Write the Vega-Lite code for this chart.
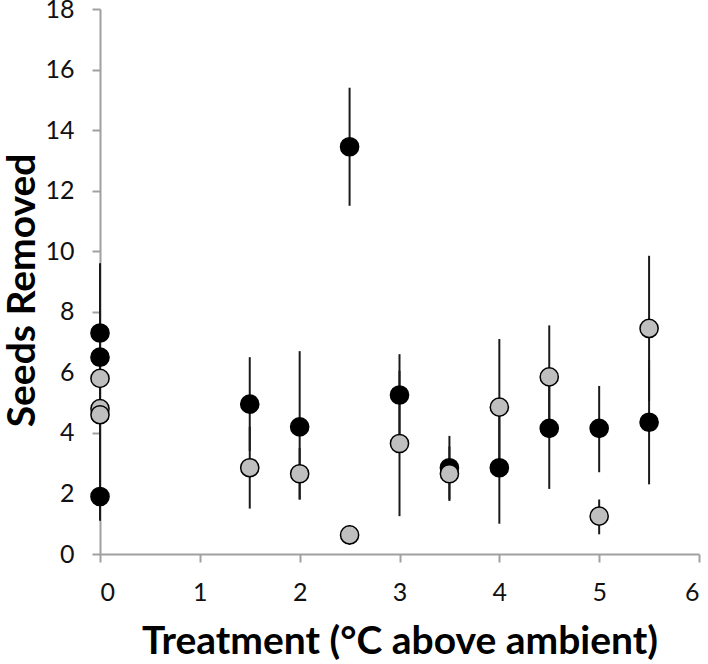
{
  "$schema": "https://vega.github.io/schema/vega-lite/v6.json",
  "autosize": "none",
  "padding": {"left": 100, "top": 9, "right": 9, "bottom": 110},
  "width": 599,
  "height": 545,
  "background": "white",
  "config": {
    "view": {"stroke": null},
    "font": "Lato",
    "axis": {
      "grid": false,
      "domainColor": "#a0a0a0",
      "domainWidth": 2,
      "tickColor": "#a0a0a0",
      "tickWidth": 2,
      "tickSize": 8,
      "labelFont": "Lato",
      "labelFontSize": 25,
      "labelColor": "#111111",
      "titleFont": "Lato",
      "titleFontSize": 39,
      "titleFontWeight": "bold",
      "titleColor": "#000000"
    }
  },
  "data": {
    "values": [
      {"x": 0, "y": 7.3, "lo": 5.0, "hi": 9.6, "group": "black"},
      {"x": 0, "y": 6.5, "lo": 4.4, "hi": 8.7, "group": "black"},
      {"x": 0, "y": 1.9, "lo": 1.1, "hi": 2.7, "group": "black"},
      {"x": 1.5, "y": 4.95, "lo": 3.4, "hi": 6.5, "group": "black"},
      {"x": 2, "y": 4.2, "lo": 1.8, "hi": 6.7, "group": "black"},
      {"x": 2.5, "y": 13.45, "lo": 11.5, "hi": 15.4, "group": "black"},
      {"x": 3, "y": 5.25, "lo": 3.9, "hi": 6.6, "group": "black"},
      {"x": 3.5, "y": 2.85, "lo": 1.8, "hi": 3.9, "group": "black"},
      {"x": 4, "y": 2.85, "lo": 1.0, "hi": 4.7, "group": "black"},
      {"x": 4.5, "y": 4.15, "lo": 2.15, "hi": 6.1, "group": "black"},
      {"x": 5, "y": 4.15, "lo": 2.7, "hi": 5.55, "group": "black"},
      {"x": 5.5, "y": 4.35, "lo": 2.3, "hi": 6.4, "group": "black"},
      {"x": 0, "y": 5.8, "lo": 3.5, "hi": 8.1, "group": "grey"},
      {"x": 0, "y": 4.8, "lo": 2.6, "hi": 7.0, "group": "grey"},
      {"x": 0, "y": 4.6, "lo": 2.9, "hi": 6.3, "group": "grey"},
      {"x": 1.5, "y": 2.85, "lo": 1.5, "hi": 4.2, "group": "grey"},
      {"x": 2, "y": 2.65, "lo": 1.8, "hi": 3.5, "group": "grey"},
      {"x": 2.5, "y": 0.63, "lo": 0.3, "hi": 0.95, "group": "grey"},
      {"x": 3, "y": 3.65, "lo": 1.25, "hi": 6.05, "group": "grey"},
      {"x": 3.5, "y": 2.65, "lo": 1.75, "hi": 3.55, "group": "grey"},
      {"x": 4, "y": 4.85, "lo": 2.6, "hi": 7.1, "group": "grey"},
      {"x": 4.5, "y": 5.85, "lo": 4.15, "hi": 7.55, "group": "grey"},
      {"x": 5, "y": 1.25, "lo": 0.65, "hi": 1.8, "group": "grey"},
      {"x": 5.5, "y": 7.45, "lo": 5.05, "hi": 9.85, "group": "grey"}
    ]
  },
  "layer": [
    {
      "mark": {"type": "rule", "color": "#1a1a1a", "strokeWidth": 2},
      "encoding": {
        "x": {"field": "x", "type": "quantitative"},
        "y": {"field": "lo", "type": "quantitative"},
        "y2": {"field": "hi"}
      }
    },
    {
      "mark": {"type": "point", "filled": true, "shape": "circle", "size": 330, "stroke": "#000000", "strokeWidth": 1.5, "opacity": 1},
      "encoding": {
        "x": {
          "field": "x", "type": "quantitative",
          "scale": {"domain": [0, 6], "nice": false, "zero": false},
          "axis": {"values": [0, 1, 2, 3, 4, 5, 6], "title": "Treatment (°C above ambient)", "labelPadding": 18, "titlePadding": 17, "format": "d"}
        },
        "y": {
          "field": "y", "type": "quantitative",
          "scale": {"domain": [0, 18], "nice": false},
          "axis": {"values": [0, 2, 4, 6, 8, 10, 12, 14, 16, 18], "title": "Seeds Removed", "labelPadding": 18, "titlePadding": 2, "labelFlush": false, "titleY": 281}
        },
        "fill": {
          "field": "group", "type": "nominal",
          "scale": {"domain": ["black", "grey"], "range": ["#000000", "#bfbfbf"]},
          "legend": null
        }
      }
    }
  ]
}
